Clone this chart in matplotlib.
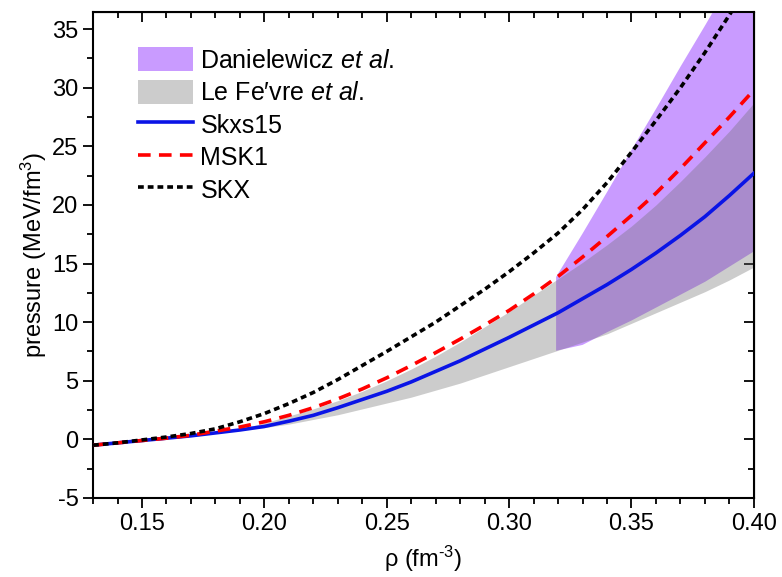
import numpy as np
import matplotlib
matplotlib.use('Agg')
import matplotlib.pyplot as plt
from matplotlib.patches import Patch
from matplotlib.lines import Line2D
from matplotlib.ticker import MultipleLocator, FormatStrFormatter

plt.rcParams['font.family'] = ['Liberation Sans', 'DejaVu Sans']
plt.rcParams['mathtext.fontset'] = 'custom'
plt.rcParams['mathtext.rm'] = 'Liberation Sans'
plt.rcParams['mathtext.it'] = 'Liberation Sans:italic'
plt.rcParams['axes.unicode_minus'] = False

rho = [0.13, 0.14, 0.15, 0.16, 0.17, 0.18, 0.19, 0.20, 0.21, 0.22, 0.23, 0.24, 0.25, 0.26,
       0.27, 0.28, 0.29, 0.30, 0.31, 0.32, 0.33, 0.34, 0.35, 0.36, 0.37, 0.38, 0.39, 0.40]

# Skxs15
p_skxs15 = [-0.5, -0.3, -0.1, 0.1, 0.3, 0.55, 0.8, 1.1, 1.55, 2.05, 2.7, 3.4, 4.1, 4.9,
            5.8, 6.7, 7.7, 8.7, 9.75, 10.8, 12.0, 13.2, 14.5, 15.9, 17.4, 19.0, 20.8, 22.7]
# MSK1
p_msk1 = [-0.5, -0.3, -0.1, 0.1, 0.35, 0.7, 1.05, 1.5, 2.05, 2.7, 3.45, 4.3, 5.25, 6.3,
          7.4, 8.55, 9.75, 11.0, 12.4, 13.9, 15.55, 17.3, 19.1, 21.0, 23.1, 25.3, 27.5, 29.8]
# SKX
p_skx = [-0.5, -0.3, -0.05, 0.2, 0.5, 0.9, 1.5, 2.2, 3.05, 4.0, 5.1, 6.3, 7.5, 8.75,
         10.0, 11.4, 12.8, 14.3, 15.9, 17.6, 19.6, 21.9, 24.5, 27.2, 30.0, 33.0, 36.2, 39.5]

# Le Fevre et al. band
rho_lefevre = [0.19, 0.20, 0.21, 0.22, 0.23, 0.24, 0.25, 0.26, 0.27, 0.28, 0.29,
               0.30, 0.31, 0.32, 0.33, 0.34, 0.35, 0.36, 0.37, 0.38, 0.39, 0.40]
lefevre_low = [0.8, 1.0, 1.3, 1.7, 2.1, 2.6, 3.1, 3.6, 4.2, 4.8, 5.5,
               6.2, 6.9, 7.6, 8.3, 9.0, 9.9, 10.8, 11.7, 12.6, 13.6, 14.7]
lefevre_high = [0.9, 1.4, 2.0, 2.6, 3.3, 4.1, 5.0, 6.0, 7.1, 8.3, 9.6,
                10.9, 12.3, 13.7, 15.1, 16.6, 18.2, 20.0, 22.0, 24.1, 26.3, 28.7]

# Danielewicz et al. band
rho_dan = [0.319, 0.3298, 0.34, 0.35, 0.36, 0.37, 0.38, 0.39, 0.40]
dan_low = [7.6, 8.1, 9.2, 10.2, 11.3, 12.4, 13.5, 14.8, 16.1]
dan_high = [13.9, 17.6, 21.2, 24.8, 28.3, 31.9, 35.4, 39.0, 42.5]

fig = plt.figure(figsize=(7.82, 5.77), dpi=100)
ax = fig.add_axes([0.119, 0.137, 0.845, 0.843])

purple = '#c99bff'
grey = '#6e6e6e'
ax.fill_between(rho_dan, dan_low, dan_high, color=purple, lw=0, zorder=1)
ax.fill_between(rho_lefevre, lefevre_low, lefevre_high, color=grey, alpha=0.35, lw=0, zorder=2)

ax.plot(rho, p_skxs15, color='#0a14e6', lw=2.6, zorder=4)
ax.plot(rho, p_msk1, color='#ff0000', lw=2.6, ls=(0, (3.5, 2.3)), zorder=4)
ax.plot(rho, p_skx, color='black', lw=2.6, ls=(0, (1.6, 1.1)), zorder=5)

ax.set_xlim(0.13, 0.40)
ax.set_ylim(-5, 36.5)
ax.xaxis.set_major_locator(MultipleLocator(0.05))
ax.xaxis.set_minor_locator(MultipleLocator(0.01))
ax.xaxis.set_major_formatter(FormatStrFormatter('%.2f'))
ax.yaxis.set_major_locator(MultipleLocator(5))
ax.yaxis.set_minor_locator(MultipleLocator(2.5))

ax.tick_params(which='both', direction='out', width=1.3, labelsize=17, top=False, right=False)
ax.tick_params(which='major', length=7)
ax.tick_params(which='minor', length=4)
for s in ax.spines.values():
    s.set_linewidth(1.5)

# inward ticks on top and right
ax2 = ax.secondary_xaxis('top')
ax2.xaxis.set_major_locator(MultipleLocator(0.05))
ax2.xaxis.set_minor_locator(MultipleLocator(0.01))
ax2.tick_params(which='both', direction='in', width=1.3, labeltop=False)
ax2.tick_params(which='major', length=7)
ax2.tick_params(which='minor', length=4)
ay2 = ax.secondary_yaxis('right')
ay2.yaxis.set_major_locator(MultipleLocator(5))
ay2.yaxis.set_minor_locator(MultipleLocator(2.5))
ay2.tick_params(which='both', direction='in', width=1.3, labelright=False)
ay2.tick_params(which='major', length=7)
ay2.tick_params(which='minor', length=4)

ax.set_xlabel(r'ρ (fm$^{\text{-}3}$)', fontsize=17, labelpad=7)
ax.set_ylabel(r'pressure (MeV/fm$^{3}$)', fontsize=17, labelpad=2)

handles = [
    Patch(facecolor=purple, edgecolor='none'),
    Patch(facecolor=grey, alpha=0.35, edgecolor='none'),
    Line2D([], [], color='#0a14e6', lw=2.6),
    Line2D([], [], color='#ff0000', lw=2.6, ls=(0, (3.5, 2.3))),
    Line2D([], [], color='black', lw=2.6, ls=(0, (1.6, 1.1))),
]
labels = [r'Danielewicz $\it{et\ al.}$', r'Le Fe′vre $\it{et\ al.}$', 'Skxs15', 'MSK1', 'SKX']
ax.legend(handles, labels, loc='upper left', bbox_to_anchor=(0.068, 0.927), frameon=False,
          borderpad=0, borderaxespad=0, fontsize=18, handlelength=2.2, handleheight=1.1,
          handletextpad=0.3, labelspacing=0.28)

fig.savefig('out.png', dpi=100)
